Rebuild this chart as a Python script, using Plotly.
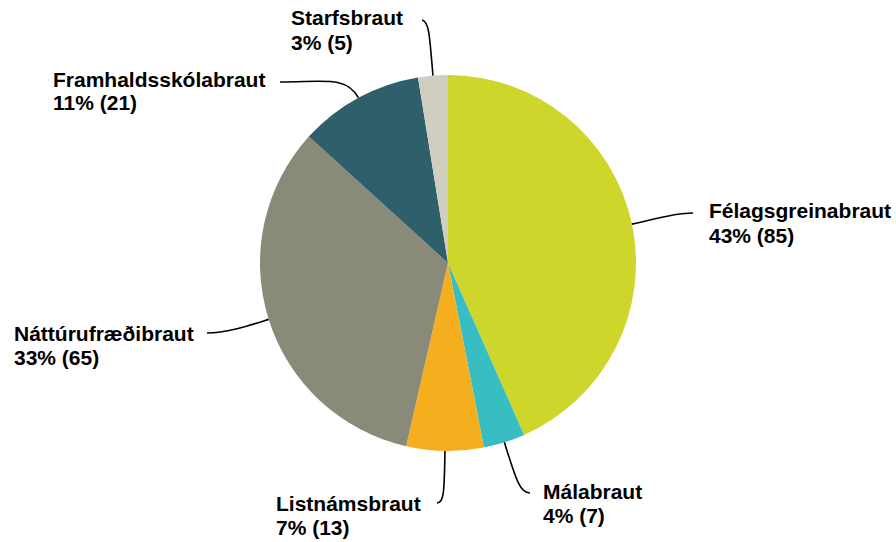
import math
import plotly.graph_objects as go

# ---- data ----
categories = ["Félagsgreinabraut", "Málabraut", "Listnámsbraut",
              "Náttúrufræðibraut", "Framhaldsskólabraut", "Starfsbraut"]
counts = [85, 7, 13, 65, 21, 5]
percent_labels = ["43%", "4%", "7%", "33%", "11%", "3%"]
colors = ["#CED52B", "#38BDC2", "#F5AE1E", "#8A8A79", "#2F5F6B", "#D0CEC1"]

# ---- layout constants (pixels) ----
W, H = 896, 542
CX, CY, R = 448, 263, 188
LINE_GAP = 24

# label anchor (left x, centre y of first line) and leader end point
label_pos = {
    "Félagsgreinabraut": (707, 211),
    "Málabraut": (541, 491),
    "Listnámsbraut": (274, 503),
    "Náttúrufræðibraut": (12, 333),
    "Framhaldsskólabraut": (51, 79),
    "Starfsbraut": (289, 18),
}
leader_end = {
    "Félagsgreinabraut": (693, 213),
    "Málabraut": (530, 493),
    "Listnámsbraut": (437, 503),
    "Náttúrufræðibraut": (207, 333),
    "Framhaldsskólabraut": (280, 82),
    "Starfsbraut": (422, 20),
}
leader_out = {  # radial length of first control point, horizontal offset of second
    "Félagsgreinabraut": (20, 20),
    "Málabraut": (40, 10),
    "Listnámsbraut": (45, 7),
    "Náttúrufræðibraut": (20, 20),
    "Framhaldsskólabraut": (25, 45),
    "Starfsbraut": (45, 8),
}


def px(x):
    return x / W


def py(y):
    return 1 - y / H


fig = go.Figure(go.Pie(
    labels=categories,
    values=counts,
    sort=False,
    direction="clockwise",
    rotation=0,
    marker=dict(colors=colors, line=dict(width=0)),
    textinfo="none",
    hoverinfo="label+value+percent",
    showlegend=False,
    domain=dict(x=[px(CX - R), px(CX + R)], y=[py(CY + R), py(CY - R)]),
))

total = sum(counts)
cum = 0
shapes = []
annotations = []
font = dict(family="Liberation Sans, Arial, sans-serif", size=21, color="#000000")
for cat, v, pct in zip(categories, counts, percent_labels):
    mid = (cum + v / 2) / total
    cum += v
    ang = 2 * math.pi * mid
    dx, dy = math.sin(ang), -math.cos(ang)
    x0, y0 = CX + R * dx, CY + R * dy
    d1, d2 = leader_out[cat]
    x1, y1 = x0 + d1 * dx, y0 + d1 * dy
    x3, y3 = leader_end[cat]
    if cat in ("Listnámsbraut", "Starfsbraut"):
        x2, y2 = x1 + (x3 - x1) * 0.1, y3 + (y1 - y3) * 0.15
    else:
        sgn = 1 if x3 > x0 else -1
        x2, y2 = x3 - sgn * d2, y3
    path = (f"M {px(x0):.5f} {py(y0):.5f} C {px(x1):.5f} {py(y1):.5f}, "
            f"{px(x2):.5f} {py(y2):.5f}, {px(x3):.5f} {py(y3):.5f}")
    shapes.append(dict(type="path", path=path, xref="paper", yref="paper",
                       line=dict(color="#000000", width=1.6)))
    lx, ly = label_pos[cat]
    for i, line in enumerate([cat, f"{pct} ({v})"]):
        annotations.append(dict(
            x=px(lx), y=py(ly + i * LINE_GAP), xref="paper", yref="paper",
            xanchor="left", yanchor="middle", align="left", showarrow=False,
            text=f"<b>{line}</b>", font=font,
        ))

fig.update_layout(
    width=W, height=H,
    margin=dict(l=0, r=0, t=0, b=0),
    paper_bgcolor="#FFFFFF",
    plot_bgcolor="#FFFFFF",
    shapes=shapes,
    annotations=annotations,
)

fig.write_html("out.html", config={"displayModeBar": False})

# remove the browser's default body margin so the figure sits at the page origin
with open("out.html", "r", encoding="utf-8") as f:
    html = f.read()
html = html.replace("<body>", '<body style="margin:0;padding:0;">', 1)
html = html.replace("<head>", '<head><style>html,body{margin:0;padding:0;}</style>', 1)
with open("out.html", "w", encoding="utf-8") as f:
    f.write(html)
